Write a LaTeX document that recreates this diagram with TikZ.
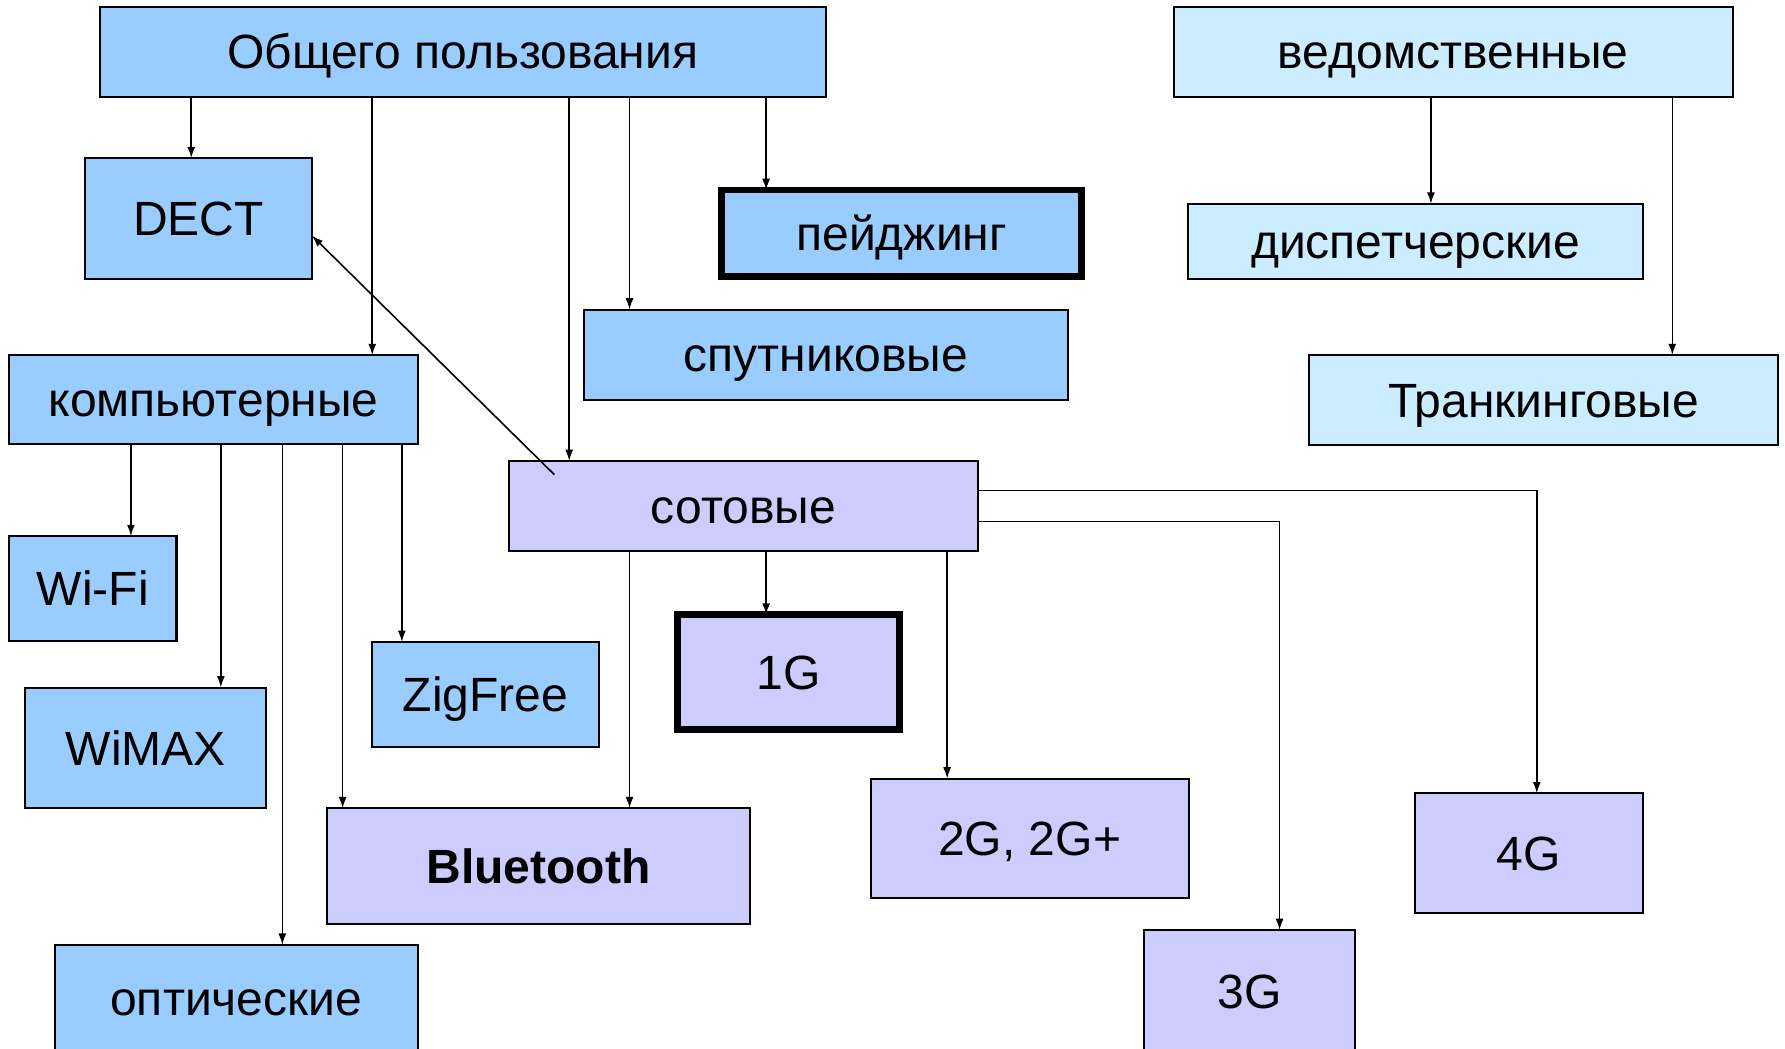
\documentclass[tikz,border=0pt]{standalone}
\usepackage{fontspec}
\setmainfont{Liberation Sans}
\usetikzlibrary{arrows.meta}
\definecolor{netblue}{HTML}{99CCFF}
\definecolor{netlight}{HTML}{CCECFF}
\definecolor{netlilac}{HTML}{CCCCFF}
\begin{document}
\begin{tikzpicture}[x=0.01cm, y=-0.01cm,
box/.style={draw, line width=0.5pt, inner sep=0pt, outer sep=0pt, text height=0.3cm, text depth=0pt, font=\fontsize{12}{14}\selectfont},
blue/.style={box, fill=netblue},
light/.style={box, fill=netlight},
cell/.style={box, fill=netlilac},
heavy/.style={line width=1.7pt},
arr/.style={-{Latex[length=1mm,width=0.7mm]}, line width=0.4pt}]
\fill[white, use as bounding box] (0,0) rectangle (1568,921);
% top level
\node[blue, minimum width=6.37cm, minimum height=0.79cm] (obsh) at (406.5,45.5) {Общего пользования};
\node[light, minimum width=4.91cm, minimum height=0.79cm] (vedom) at (1276.5,45.5) {ведомственные};
% second level
\node[blue, minimum width=1.99cm, minimum height=1.06cm] (dect) at (174.5,192) {DECT};
\node[blue, heavy, minimum width=3.16cm, minimum height=0.76cm] (peid) at (792,205) {пейджинг};
\node[light, minimum width=3.99cm, minimum height=0.66cm] (disp) at (1243.5,212) {диспетчерские};
\node[blue, minimum width=4.25cm, minimum height=0.79cm] (sput) at (725.5,311.5) {спутниковые};
\node[blue, minimum width=3.59cm, minimum height=0.78cm] (komp) at (187.5,351) {компьютерные};
\node[light, minimum width=4.12cm, minimum height=0.79cm] (trank) at (1356,351.5) {Транкинговые};
\node[cell, minimum width=4.12cm, minimum height=0.79cm] (sot) at (653,444.5) {сотовые};
% leaves
\node[blue, minimum width=1.47cm, minimum height=0.92cm] (wifi) at (81.5,517) {Wi-Fi};
\node[blue, minimum width=1.99cm, minimum height=0.92cm] (zig) at (426.5,610) {ZigFree};
\node[cell, heavy, minimum width=1.95cm, minimum height=1.01cm] (g1) at (692.5,590.5) {1G};
\node[blue, minimum width=2.12cm, minimum height=1.06cm] (wimax) at (128,657) {WiMAX};
\node[cell, minimum width=2.79cm, minimum height=1.05cm] (g2) at (904.5,736.5) {2G, 2G+};
\node[cell, minimum width=2cm, minimum height=1.05cm] (g4) at (1343,749.5) {4G};
\node[cell, minimum width=3.72cm, minimum height=1.02cm, font=\fontsize{12}{14}\selectfont\bfseries] (blue) at (473,761) {Bluetooth};
\node[cell, minimum width=1.85cm, minimum height=1.07cm] (g3) at (1097.5,870.5) {3G};
\node[blue, minimum width=3.19cm, minimum height=0.94cm] (opt) at (207.5,877) {оптические};
\coordinate (sotin) at (487,417);
% connectors
\draw[arr] (obsh.south -| 168,0) -- (dect.north -| 168,0);
\draw[arr] (obsh.south -| 327,0) -- (komp.north -| 327,0);
\draw[arr] (obsh.south -| 500,0) -- (sot.north -| 500,0);
\draw[arr] (obsh.south -| 553,0) -- (sput.north -| 553,0);
\draw[arr] (obsh.south -| 673,0) -- (peid.north -| 673,0);
\draw[arr] (vedom.south -| 1257,0) -- (disp.north -| 1257,0);
\draw[arr] (vedom.south -| 1469,0) -- (trank.north -| 1469,0);
\draw[arr] (sotin) -- (dect.east |- 0,207);
\draw[arr] (komp.south -| 115,0) -- (wifi.north -| 115,0);
\draw[arr] (komp.south -| 194,0) -- (wimax.north -| 194,0);
\draw[arr] (komp.south -| 248,0) -- (opt.north -| 248,0);
\draw[arr] (komp.south -| 301,0) -- (blue.north -| 301,0);
\draw[arr] (komp.south -| 353,0) -- (zig.north -| 353,0);
\draw[arr] (sot.south -| 553,0) -- (blue.north -| 553,0);
\draw[arr] (sot.south -| 673,0) -- (g1.north -| 673,0);
\draw[arr] (sot.south -| 832,0) -- (g2.north -| 832,0);
\draw[arr] (sot.east |- 0,458) -| (g3.north -| 1124,0);
\draw[arr] (sot.east |- 0,431) -| (g4.north -| 1350,0);
\end{tikzpicture}
\end{document}
